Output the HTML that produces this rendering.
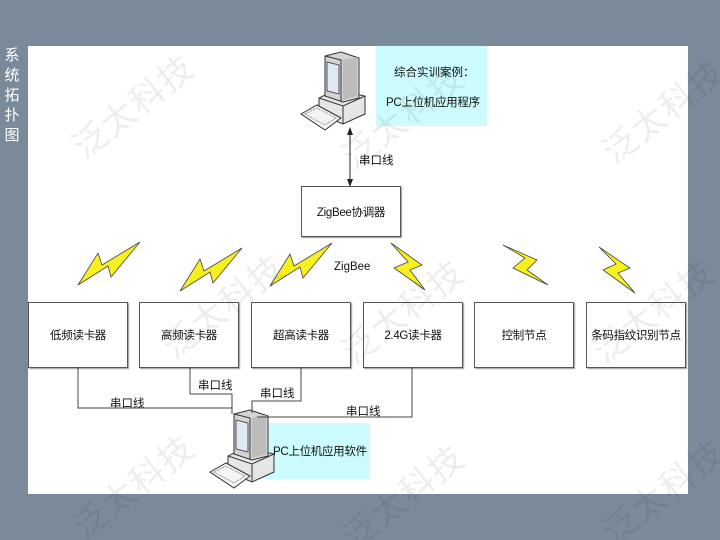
<!DOCTYPE html>
<html style="width:720px;height:540px;overflow:hidden;margin:0;"><head><meta charset="utf-8"><style>
body{margin:0;width:720px;height:540px;background:#7b8a9a;position:relative;overflow:hidden;font-family:"Liberation Sans","Noto Sans CJK SC",sans-serif;}
.panel{position:absolute;left:28px;top:46px;width:660px;height:448px;background:#fff;}
.side{position:absolute;left:3px;top:46px;width:18px;color:#fff;font-size:15px;line-height:20px;text-align:center;}
.box{position:absolute;border:1px solid #555;background:#fff;font-size:11.5px;color:#111;display:flex;align-items:center;justify-content:center;box-shadow:1px 1px 1px #999;white-space:nowrap;letter-spacing:-0.3px;}
.lbl{position:absolute;font-size:11.5px;color:#111;white-space:nowrap;}
.cyan{position:absolute;background:#ccfcfd;font-size:11.5px;color:#111;white-space:nowrap;}
.wm{position:absolute;font-size:34px;color:rgba(0,0,0,0.07);transform:rotate(-38deg);white-space:nowrap;letter-spacing:2px;}
svg{position:absolute;left:0;top:0;}
</style></head><body>
<div class="panel"></div>
<div class="side">系<br>统<br>拓<br>扑<br>图</div>
<div class="cyan" style="left:376px;top:46px;width:111px;height:80px;"><div style="position:absolute;left:18px;top:18px">综合实训案例：</div><div style="position:absolute;left:10px;top:48px;letter-spacing:-0.3px">PC上位机应用程序</div></div>
<div class="cyan" style="left:263px;top:423px;width:107px;height:56px;"><div style="position:absolute;left:10px;top:20px;letter-spacing:-0.3px">PC上位机应用软件</div></div>
<div class="box" style="left:301px;top:186px;width:98px;height:49px;">ZigBee协调器</div>
<div class="box" style="left:28px;top:302px;width:98px;height:64px;">低频读卡器</div>
<div class="box" style="left:139px;top:302px;width:98px;height:64px;">高频读卡器</div>
<div class="box" style="left:251px;top:302px;width:98px;height:64px;">超高读卡器</div>
<div class="box" style="left:363px;top:302px;width:98px;height:64px;">2.4G读卡器</div>
<div class="box" style="left:474px;top:302px;width:98px;height:64px;">控制节点</div>
<div class="box" style="left:586px;top:302px;width:98px;height:64px;">条码指纹识别节点</div>
<div class="lbl" style="left:334px;top:261px;">ZigBee</div>
<div class="lbl" style="left:359px;top:152px;">串口线</div>
<div class="lbl" style="left:110px;top:395px;">串口线</div>
<div class="lbl" style="left:198px;top:377px;">串口线</div>
<div class="lbl" style="left:260px;top:385px;">串口线</div>
<div class="lbl" style="left:346px;top:403px;">串口线</div>
<svg width="720" height="540">
<defs><marker id="a" markerWidth="8" markerHeight="8" refX="7" refY="4" orient="auto"><path d="M0,1 L8,4 L0,7z" fill="#222"/></marker>
<g id="pc">
<path d="M22,38 L52,44 L52,62 L30,72 L6,62 L6,46z" fill="#e6e6e6" stroke="#333"/>
<path d="M6,46 L30,54 L52,44" fill="none" stroke="#333"/>
<path d="M30,54 L30,72" stroke="#333"/>
<path d="M12,4 L28,0 L46,6 L46,46 L30,50 L12,44z" fill="#d4d4d4" stroke="#333"/>
<path d="M12,4 L28,8 L28,50" fill="none" stroke="#333"/>
<path d="M14,10 L26,13 L26,42 L14,39z" fill="#dfe8f5" stroke="#555"/>
<path d="M30,8 L44,5 L44,44 L30,48z" fill="#bcbcbc"/>
<path d="M-12,62 L4,53 L28,66 L12,78z" fill="#f4f4f4" stroke="#333"/>
<path d="M-8,62 L4,56 L23,66 L12,73z" fill="none" stroke="#999" stroke-dasharray="2 1"/></g>
<g id="b1"><path d="M0,43 L20,11 L24,23 L62,0 L33,35 L30,24z" fill="#f7ef1e" stroke="#444" stroke-width="0.8"/></g>
</defs>
<use href="#pc" x="313" y="52"/>
<use href="#pc" x="222" y="410"/>
<line x1="350" y1="186" x2="350" y2="128" stroke="#222" marker-end="url(#a)"/>
<line x1="350" y1="128" x2="350" y2="186" stroke="#222" marker-end="url(#a)"/>
<g fill="none" stroke="#444" stroke-width="1">
<polyline points="78,367 78,408 232,408 232,414"/>
<polyline points="190,367 190,394 232,394 232,410"/>
<polyline points="301,367 301,401 252,401 252,413"/>
<polyline points="412,367 412,417 257,417"/>
</g>
<use href="#b1" x="78" y="242"/>
<use href="#b1" x="180" y="248"/>
<use href="#b1" x="270" y="243"/>
<path d="M391,243 L422,265 L410,270 L425,290 L394,268 L408,262z" fill="#f7ef1e" stroke="#444" stroke-width="0.8"/>
<path d="M503,245 L537,260 L527,270 L548,285 L513,268 L525,258z" fill="#f7ef1e" stroke="#444" stroke-width="0.8"/>
<path d="M599,247 L630,268 L618,273 L635,293 L603,270 L616,264z" fill="#f7ef1e" stroke="#444" stroke-width="0.8"/>
</svg>
<div class="wm" style="left:60px;top:80px;">泛太科技</div>
<div class="wm" style="left:590px;top:85px;">泛太科技</div>
<div class="wm" style="left:330px;top:90px;">泛太科技</div>
<div class="wm" style="left:150px;top:280px;">泛太科技</div>
<div class="wm" style="left:330px;top:285px;">泛太科技</div>
<div class="wm" style="left:580px;top:285px;">泛太科技</div>
<div class="wm" style="left:60px;top:460px;">泛太科技</div>
<div class="wm" style="left:330px;top:470px;">泛太科技</div>
<div class="wm" style="left:590px;top:465px;">泛太科技</div>
</body></html>
